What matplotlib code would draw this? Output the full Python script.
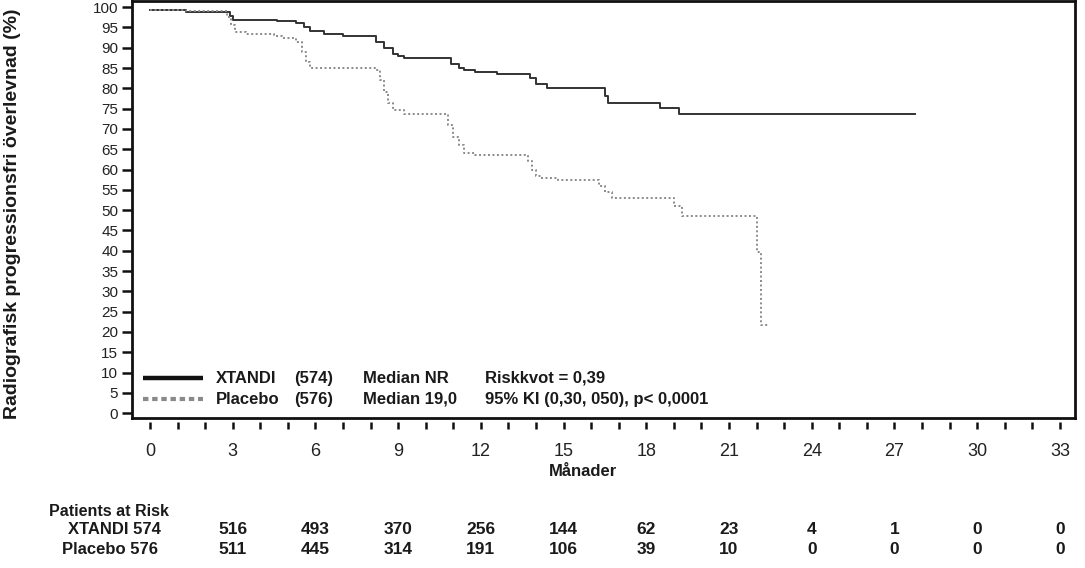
import matplotlib
matplotlib.use('Agg')
import matplotlib.pyplot as plt
from matplotlib.transforms import blended_transform_factory

# Kaplan-Meier steps (months, % free of progression)
xtandi_t = [0, 1.3, 2.9, 3.0, 4.6, 5.3, 5.6, 5.8, 6.3, 7.0, 8.2, 8.5, 8.8, 9.0, 9.2,
            10.9, 11.2, 11.4, 11.8, 12.6, 13.8, 14.0, 14.4, 16.5, 16.6, 18.5, 19.2, 27.75]
xtandi_s = [99.3, 98.9, 97.8, 96.8, 96.5, 96.0, 95.0, 94.2, 93.4, 93.0, 91.5, 90.0, 88.5, 87.9, 87.6,
            86.0, 85.0, 84.5, 84.1, 83.5, 82.5, 81.0, 80.0, 78.0, 76.5, 75.2, 73.8, 73.8]

placebo_t = [0, 1.3, 2.8, 2.95, 3.1, 3.5, 4.5, 4.8, 5.3, 5.5, 5.65, 5.8, 8.2, 8.35, 8.5, 8.65,
             8.8, 9.2, 10.8, 11.0, 11.2, 11.4, 11.8, 13.7, 13.85, 14.0, 14.2, 14.8, 16.3, 16.5,
             16.75, 19.0, 19.3, 22.0, 22.15, 22.4]
placebo_s = [99.3, 99.0, 97.5, 95.5, 94.0, 93.4, 93.0, 92.5, 91.5, 89.0, 86.5, 84.9, 84.5, 82.0, 79.0, 76.5,
             74.6, 73.8, 71.0, 68.0, 66.0, 64.1, 63.5, 62.0, 60.0, 58.5, 57.8, 57.4, 56.0, 54.5,
             53.1, 50.9, 48.5, 39.7, 21.7, 21.7]

risk_months = [0, 3, 6, 9, 12, 15, 18, 21, 24, 27, 30, 33]
risk_xtandi = [574, 516, 493, 370, 256, 144, 62, 23, 4, 1, 0, 0]
risk_placebo = [576, 511, 445, 314, 191, 106, 39, 10, 0, 0, 0, 0]

legend_names = ["XTANDI", "Placebo"]
legend_n = ["(574)", "(576)"]
legend_median = ["Median NR", "Median 19,0"]
legend_stats = ["Riskkvot = 0,39", "95% KI (0,30, 050), p< 0,0001"]

plt.rcParams['font.family'] = ['Liberation Sans', 'DejaVu Sans']
txt = '#1a1a1a'

fig = plt.figure(figsize=(10.85, 5.68), dpi=100)
ax = fig.add_axes([0.1217, 0.2641, 0.8691, 0.7340])

ax.step(xtandi_t, xtandi_s, where='post', color='#333333', lw=1.4)
ax.step(placebo_t, placebo_s, where='post', color='#8a8a8a', lw=1.4,
        linestyle=(0, (1, 1.3)))

ax.set_xlim(-0.65, 33.55)
ax.set_ylim(-1.2, 101.5)

ax.set_yticks(range(0, 101, 5))
ax.set_xticks(range(0, 34, 3))
ax.set_xticks(range(0, 34), minor=True)

for side in ['left', 'right', 'top']:
    ax.spines[side].set_linewidth(2)
    ax.spines[side].set_color('#111111')
# ticks on x sit a little below the box, so move the spine and redraw the box edge
ax.spines['bottom'].set_position(('outward', 3))
ax.spines['bottom'].set_visible(False)
ax.plot([0, 1], [0, 0], transform=ax.transAxes, color='#111111', lw=2, clip_on=False)

ax.tick_params(axis='y', direction='out', length=7, width=1.8, pad=3,
               labelsize=11, labelcolor='#222222', color='#111111')
ax.tick_params(axis='x', which='both', direction='out', length=5, width=1.8, pad=10,
               labelsize=13, labelcolor='#222222', color='#111111')
for lab in ax.get_xticklabels():
    lab.set_family(['Liberation Sans Narrow', 'Liberation Sans'])

ax.set_ylabel("Radiografisk progressionsfri överlevnad (%)", fontsize=14,
              fontweight='bold', color=txt)
ax.yaxis.set_label_coords(-0.1177, 0.49)
ax.set_xlabel("Månader", fontsize=12, fontweight='bold', color=txt)
ax.xaxis.set_label_coords(0.478, -0.11)

# legend drawn as columns inside the axes
row_y = [8.6, 3.45]
ax.plot([-0.25, 1.92], [row_y[0]] * 2, color='#111111', lw=3.2, solid_capstyle='butt')
ax.plot([-0.25, 1.92], [row_y[1]] * 2, color='#8a8a8a', lw=3.0,
        linestyle=(0, (1.3, 0.9)), dash_capstyle='butt')
for i in range(2):
    for xpos, s in zip([2.39, 5.22, 7.73, 12.15],
                       [legend_names[i], legend_n[i], legend_median[i], legend_stats[i]]):
        ax.text(xpos, row_y[i], s, fontsize=12, fontweight='bold', color=txt,
                ha='left', va='center')

# patients at risk table
tr = blended_transform_factory(ax.transData, fig.transFigure)
fig.text(49 / 1085, 1 - 511 / 568, "Patients at Risk", fontsize=11.5, fontweight='bold',
         color=txt, ha='left', va='center')
fig.text(114 / 1085, 1 - 529 / 568, "XTANDI %d" % risk_xtandi[0], fontsize=12,
         fontweight='bold', color=txt, ha='center', va='center')
fig.text(110 / 1085, 1 - 549 / 568, "Placebo %d" % risk_placebo[0], fontsize=12,
         fontweight='bold', color=txt, ha='center', va='center')
for m, a, b in zip(risk_months[1:], risk_xtandi[1:], risk_placebo[1:]):
    ax.text(m, 1 - 529 / 568, str(a), transform=tr, fontsize=12.5, fontweight='bold',
            color=txt, ha='center', va='center')
    ax.text(m, 1 - 549 / 568, str(b), transform=tr, fontsize=12.5, fontweight='bold',
            color=txt, ha='center', va='center')

fig.savefig('out.png', dpi=100)
